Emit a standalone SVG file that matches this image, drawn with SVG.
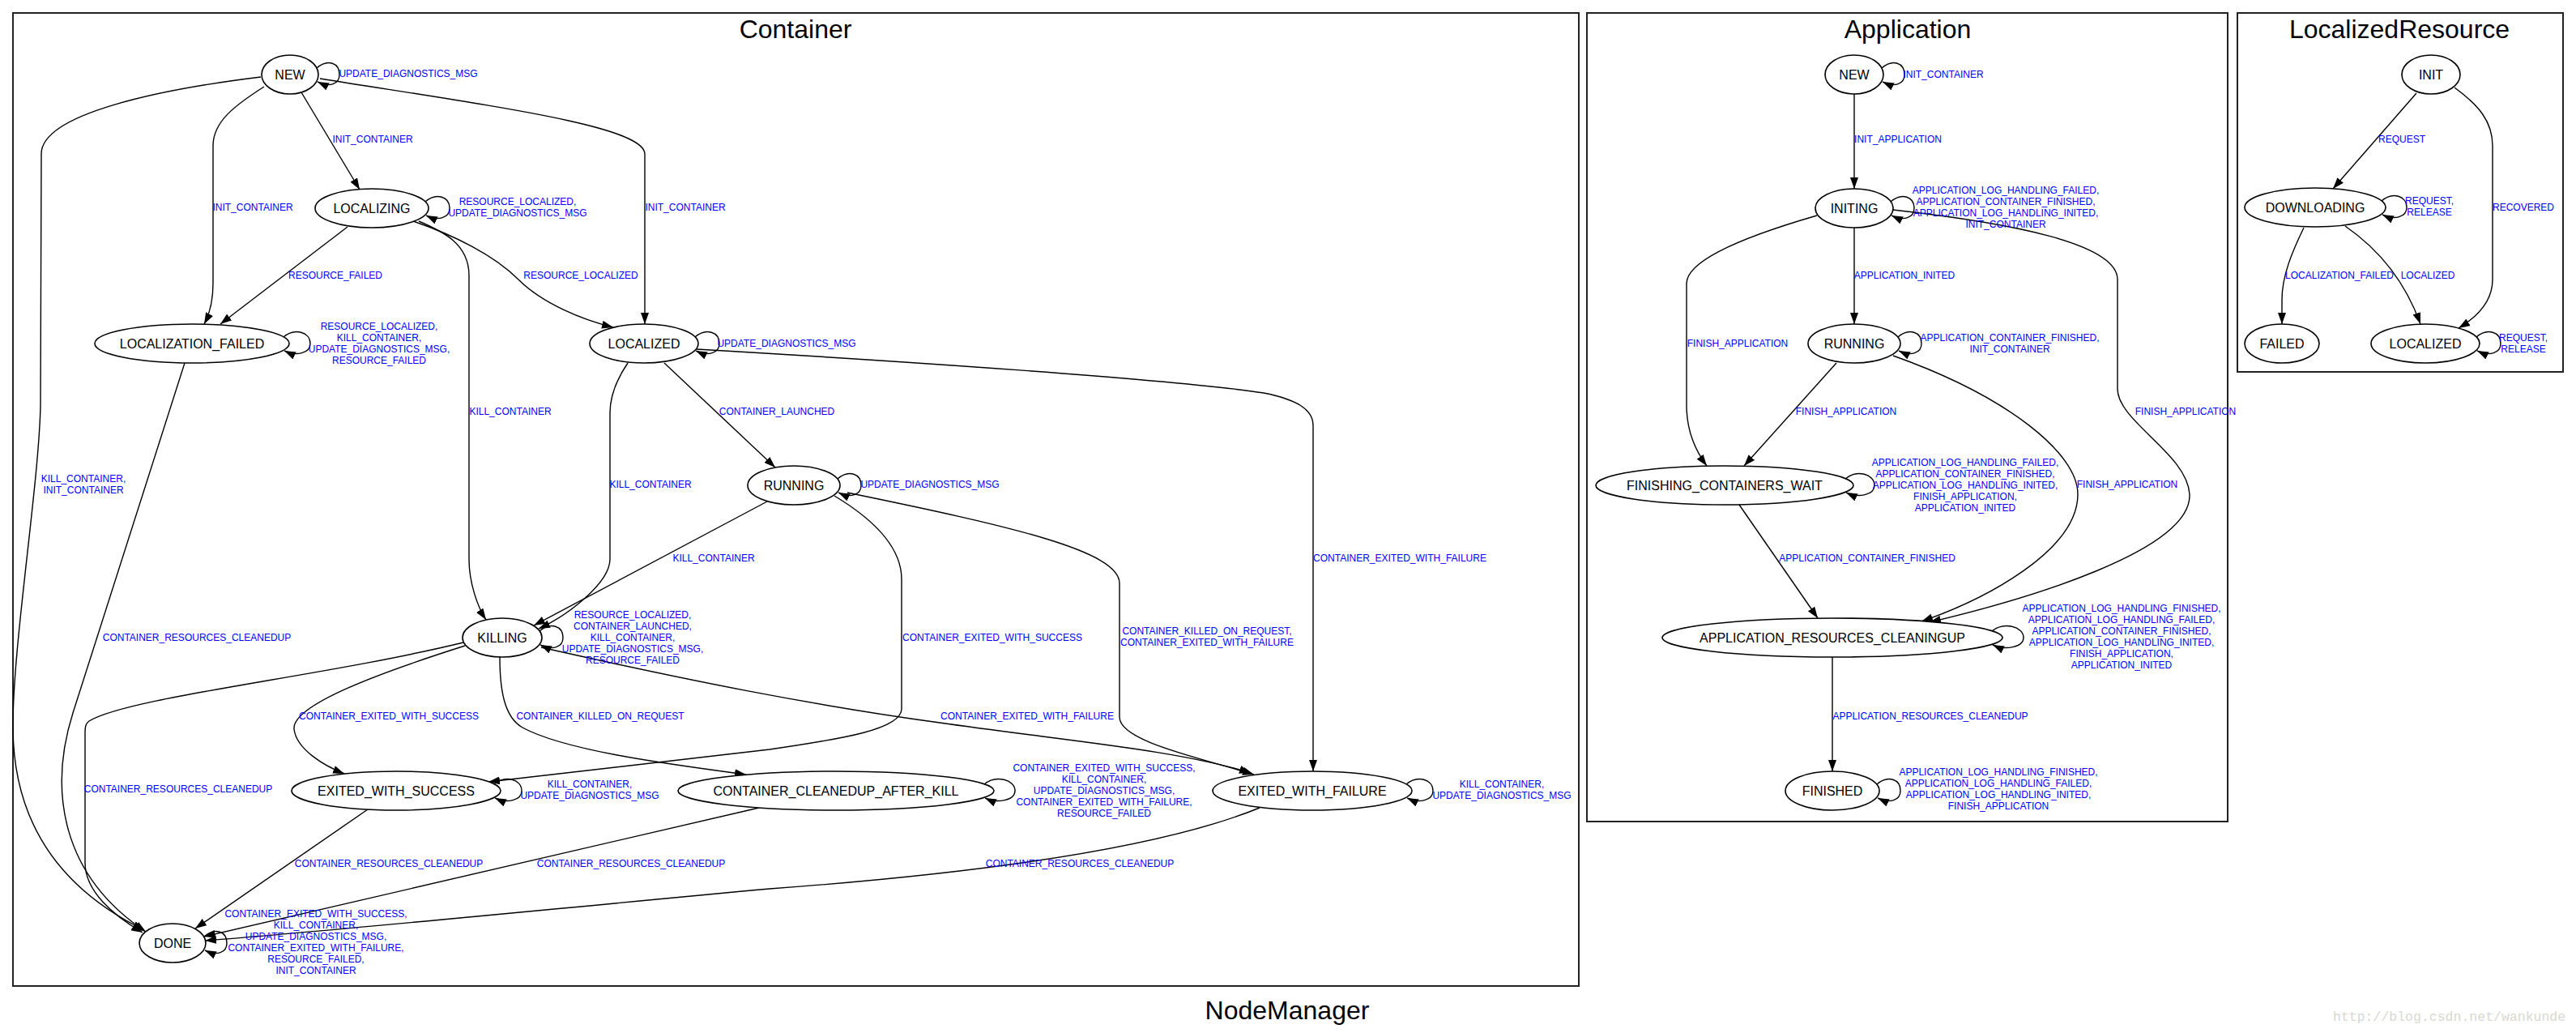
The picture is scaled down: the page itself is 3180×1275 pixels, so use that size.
<svg xmlns="http://www.w3.org/2000/svg" width="3180" height="1275" viewBox="0 0 3180 1275">
<style>
.cl{fill:none;stroke:#222;stroke-width:2}
.n ellipse{fill:#fff;stroke:#000;stroke-width:1.6}
.n text{font-family:"Liberation Sans",Arial,sans-serif;font-size:16px;text-anchor:middle;fill:#000}
.t{font-family:"Liberation Sans",Arial,sans-serif;font-size:32px;text-anchor:middle;fill:#000}
.e path{fill:none;stroke:#000;stroke-width:1.4;marker-end:url(#a)}
.l text{font-family:"Liberation Sans",Arial,sans-serif;font-size:12px;text-anchor:middle;fill:#00f}
.wm{font-family:"Liberation Mono",monospace;font-size:16.5px;fill:#d8d8cf}
</style>
<defs>
<marker id="a" markerWidth="14" markerHeight="10" refX="14" refY="5" orient="auto" markerUnits="userSpaceOnUse"><path d="M0,0 L14,5 L0,10 z" fill="#000"/></marker>
</defs>
<rect width="3180" height="1275" fill="#fff"/>

<g id="clusters">
<rect class="cl" x="16" y="16" width="1933" height="1201"/>
<text class="t" x="982" y="47">Container</text>
<rect class="cl" x="1959" y="16" width="791" height="998"/>
<text class="t" x="2355" y="47">Application</text>
<rect class="cl" x="2762" y="16" width="402" height="443"/>
<text class="t" x="2962" y="47">LocalizedResource</text>
<text class="t" x="1589" y="1258">NodeManager</text>
</g>

<g id="connectors" class="e">
<!-- Container -->
<path d="M391,84 C405,72 419,78 419,92 C419,104 407,108 392,101"/>
<path d="M372,114 L444,234"/>
<path d="M326,107 C290,130 263,150 263,180 L263,350 C263,370 260,385 252,400"/>
<path d="M395,97 C600,130 796,155 796,190 L796,400"/>
<path d="M322,95 C200,110 51,140 51,190 L50,500 C48,600 15,800 16,900 C17,1000 60,1090 178,1148"/>
<path d="M525,249 C539,237 555,243 555,257 C555,269 541,273 526,266"/>
<path d="M429,280 L272,400"/>
<path d="M510,273 C560,290 610,315 640,345 C670,375 720,395 757,404"/>
<path d="M517,273 C545,285 579,300 579,340 L579,690 C579,720 590,750 600,765"/>
<path d="M350,416 C364,404 383,410 383,424 C383,436 366,440 351,433"/>
<path d="M228,448 L90,880 C60,975 75,1080 180,1150"/>
<path d="M858,416 C872,404 888,410 888,424 C888,436 874,440 859,433"/>
<path d="M775,448 C760,470 753,490 753,510 L753,690 C753,720 700,760 665,776"/>
<path d="M820,448 L957,577"/>
<path d="M860,431 C1100,445 1450,468 1560,485 C1600,493 1621,505 1621,525 L1621,952"/>
<path d="M1034,591 C1048,579 1063,585 1063,599 C1063,611 1050,615 1035,608"/>
<path d="M947,619 L659,772"/>
<path d="M1030,612 C1085,645 1113,680 1113,715 L1113,875 C1113,900 1040,912 950,925 L603,965"/>
<path d="M1046,608 C1250,650 1382,680 1382,720 L1382,885 C1382,915 1480,935 1548,956"/>
<path d="M666,779 C680,767 695,773 695,787 C695,799 682,803 667,796"/>
<path d="M668,799 C850,840 1000,870 1160,892 C1320,915 1450,925 1544,954"/>
<path d="M574,797 C470,830 360,870 363,900 C366,925 400,945 425,955"/>
<path d="M617,811 C617,850 622,885 645,898 C700,928 840,945 921,956"/>
<path d="M572,793 C400,835 160,860 110,890 C106,893 105,896 105,905 L105,1065 C105,1100 140,1130 176,1151"/>
<path d="M610,968 C624,956 644,962 644,976 C644,988 626,992 611,985"/>
<path d="M454,999 L241,1146"/>
<path d="M1215,968 C1229,956 1253,962 1253,976 C1253,988 1231,992 1216,985"/>
<path d="M937,997 L252,1156"/>
<path d="M1736,968 C1750,956 1769,962 1769,976 C1769,988 1752,992 1737,985"/>
<path d="M1555,997 C1450,1040 1250,1075 950,1097 C700,1120 400,1150 253,1161"/>
<path d="M252,1156 C266,1144 280,1150 280,1164 C280,1176 268,1180 253,1173"/>
<!-- Application -->
<path d="M2323,84 C2337,72 2351,78 2351,92 C2351,104 2339,108 2324,101"/>
<path d="M2289,116 L2289,233"/>
<path d="M2334,249 C2348,237 2363,243 2363,257 C2363,269 2350,273 2335,266"/>
<path d="M2289,281 L2289,400"/>
<path d="M2343,416 C2357,404 2372,410 2372,424 C2372,436 2359,440 2344,433"/>
<path d="M2243,266 C2160,290 2082,320 2082,350 L2082,500 C2082,530 2092,555 2107,575"/>
<path d="M2267,448 L2153,575"/>
<path d="M2337,439 C2480,490 2565,560 2565,610 C2565,680 2450,740 2372,767"/>
<path d="M2337,259 C2480,275 2614,300 2614,345 L2614,480 C2614,520 2700,560 2703,610 C2706,680 2500,740 2382,768"/>
<path d="M2278,591 C2292,579 2314,585 2314,599 C2314,611 2294,615 2279,608"/>
<path d="M2147,623 L2244,763"/>
<path d="M2459,779 C2473,767 2498,773 2498,787 C2498,799 2475,803 2460,796"/>
<path d="M2262,811 L2262,952"/>
<path d="M2317,968 C2331,956 2346,962 2346,976 C2346,988 2333,992 2318,985"/>
<!-- LocalizedResource -->
<path d="M2983,115 L2880,233"/>
<path d="M3030,108 C3060,130 3077,150 3077,180 L3077,345 C3077,370 3060,390 3035,405"/>
<path d="M2940,248 C2954,236 2971,242 2971,256 C2971,268 2956,272 2941,265"/>
<path d="M2844,281 C2830,310 2817,340 2817,370 L2817,400"/>
<path d="M2895,279 C2940,310 2970,350 2988,400"/>
<path d="M3057,416 C3071,404 3087,410 3087,424 C3087,436 3073,440 3058,433"/>
</g>

<g id="edge-labels" class="l">
<text x="504" y="95">UPDATE_DIAGNOSTICS_MSG</text>
<text x="460" y="176">INIT_CONTAINER</text>
<text x="312" y="260">INIT_CONTAINER</text>
<text x="846" y="260">INIT_CONTAINER</text>
<text x="639" y="253">RESOURCE_LOCALIZED,</text>
<text x="639" y="267">UPDATE_DIAGNOSTICS_MSG</text>
<text x="414" y="344">RESOURCE_FAILED</text>
<text x="717" y="344">RESOURCE_LOCALIZED</text>
<text x="468" y="407">RESOURCE_LOCALIZED,</text>
<text x="468" y="421">KILL_CONTAINER,</text>
<text x="468" y="435">UPDATE_DIAGNOSTICS_MSG,</text>
<text x="468" y="449">RESOURCE_FAILED</text>
<text x="971" y="428">UPDATE_DIAGNOSTICS_MSG</text>
<text x="630" y="512">KILL_CONTAINER</text>
<text x="959" y="512">CONTAINER_LAUNCHED</text>
<text x="103" y="595">KILL_CONTAINER,</text>
<text x="103" y="609">INIT_CONTAINER</text>
<text x="803" y="602">KILL_CONTAINER</text>
<text x="1148" y="602">UPDATE_DIAGNOSTICS_MSG</text>
<text x="1728" y="693">CONTAINER_EXITED_WITH_FAILURE</text>
<text x="881" y="693">KILL_CONTAINER</text>
<text x="243" y="791">CONTAINER_RESOURCES_CLEANEDUP</text>
<text x="1225" y="791">CONTAINER_EXITED_WITH_SUCCESS</text>
<text x="1490" y="783">CONTAINER_KILLED_ON_REQUEST,</text>
<text x="1490" y="797">CONTAINER_EXITED_WITH_FAILURE</text>
<text x="781" y="763">RESOURCE_LOCALIZED,</text>
<text x="781" y="777">CONTAINER_LAUNCHED,</text>
<text x="781" y="791">KILL_CONTAINER,</text>
<text x="781" y="805">UPDATE_DIAGNOSTICS_MSG,</text>
<text x="781" y="819">RESOURCE_FAILED</text>
<text x="480" y="888">CONTAINER_EXITED_WITH_SUCCESS</text>
<text x="741" y="888">CONTAINER_KILLED_ON_REQUEST</text>
<text x="1268" y="888">CONTAINER_EXITED_WITH_FAILURE</text>
<text x="220" y="978">CONTAINER_RESOURCES_CLEANEDUP</text>
<text x="728" y="972">KILL_CONTAINER,</text>
<text x="728" y="986">UPDATE_DIAGNOSTICS_MSG</text>
<text x="1363" y="952">CONTAINER_EXITED_WITH_SUCCESS,</text>
<text x="1363" y="966">KILL_CONTAINER,</text>
<text x="1363" y="980">UPDATE_DIAGNOSTICS_MSG,</text>
<text x="1363" y="994">CONTAINER_EXITED_WITH_FAILURE,</text>
<text x="1363" y="1008">RESOURCE_FAILED</text>
<text x="1854" y="972">KILL_CONTAINER,</text>
<text x="1854" y="986">UPDATE_DIAGNOSTICS_MSG</text>
<text x="480" y="1070">CONTAINER_RESOURCES_CLEANEDUP</text>
<text x="779" y="1070">CONTAINER_RESOURCES_CLEANEDUP</text>
<text x="1333" y="1070">CONTAINER_RESOURCES_CLEANEDUP</text>
<text x="390" y="1132">CONTAINER_EXITED_WITH_SUCCESS,</text>
<text x="390" y="1146">KILL_CONTAINER,</text>
<text x="390" y="1160">UPDATE_DIAGNOSTICS_MSG,</text>
<text x="390" y="1174">CONTAINER_EXITED_WITH_FAILURE,</text>
<text x="390" y="1188">RESOURCE_FAILED,</text>
<text x="390" y="1202">INIT_CONTAINER</text>
<!-- Application -->
<text x="2399" y="96">INIT_CONTAINER</text>
<text x="2343" y="176">INIT_APPLICATION</text>
<text x="2476" y="239">APPLICATION_LOG_HANDLING_FAILED,</text>
<text x="2476" y="253">APPLICATION_CONTAINER_FINISHED,</text>
<text x="2476" y="267">APPLICATION_LOG_HANDLING_INITED,</text>
<text x="2476" y="281">INIT_CONTAINER</text>
<text x="2351" y="344">APPLICATION_INITED</text>
<text x="2145" y="428">FINISH_APPLICATION</text>
<text x="2481" y="421">APPLICATION_CONTAINER_FINISHED,</text>
<text x="2481" y="435">INIT_CONTAINER</text>
<text x="2279" y="512">FINISH_APPLICATION</text>
<text x="2698" y="512">FINISH_APPLICATION</text>
<text x="2426" y="575">APPLICATION_LOG_HANDLING_FAILED,</text>
<text x="2426" y="589">APPLICATION_CONTAINER_FINISHED,</text>
<text x="2426" y="603">APPLICATION_LOG_HANDLING_INITED,</text>
<text x="2426" y="617">FINISH_APPLICATION,</text>
<text x="2426" y="631">APPLICATION_INITED</text>
<text x="2626" y="602">FINISH_APPLICATION</text>
<text x="2305" y="693">APPLICATION_CONTAINER_FINISHED</text>
<text x="2619" y="755">APPLICATION_LOG_HANDLING_FINISHED,</text>
<text x="2619" y="769">APPLICATION_LOG_HANDLING_FAILED,</text>
<text x="2619" y="783">APPLICATION_CONTAINER_FINISHED,</text>
<text x="2619" y="797">APPLICATION_LOG_HANDLING_INITED,</text>
<text x="2619" y="811">FINISH_APPLICATION,</text>
<text x="2619" y="825">APPLICATION_INITED</text>
<text x="2383" y="888">APPLICATION_RESOURCES_CLEANEDUP</text>
<text x="2467" y="957">APPLICATION_LOG_HANDLING_FINISHED,</text>
<text x="2467" y="971">APPLICATION_LOG_HANDLING_FAILED,</text>
<text x="2467" y="985">APPLICATION_LOG_HANDLING_INITED,</text>
<text x="2467" y="999">FINISH_APPLICATION</text>
<!-- LocalizedResource -->
<text x="2965" y="176">REQUEST</text>
<text x="3115" y="260">RECOVERED</text>
<text x="2999" y="252">REQUEST,</text>
<text x="2999" y="266">RELEASE</text>
<text x="2888" y="344">LOCALIZATION_FAILED</text>
<text x="2997" y="344">LOCALIZED</text>
<text x="3115" y="421">REQUEST,</text>
<text x="3115" y="435">RELEASE</text>
</g>

<g id="c-NEW" class="n"><ellipse cx="358" cy="92" rx="35" ry="24"/><text x="358" y="98">NEW</text></g>
<g id="c-LOCALIZING" class="n"><ellipse cx="459" cy="257" rx="70" ry="24"/><text x="459" y="263">LOCALIZING</text></g>
<g id="c-LOCALIZATION_FAILED" class="n"><ellipse cx="237" cy="424" rx="120" ry="24"/><text x="237" y="430">LOCALIZATION_FAILED</text></g>
<g id="c-LOCALIZED" class="n"><ellipse cx="795" cy="424" rx="67" ry="24"/><text x="795" y="430">LOCALIZED</text></g>
<g id="c-RUNNING" class="n"><ellipse cx="980" cy="599" rx="57" ry="24"/><text x="980" y="605">RUNNING</text></g>
<g id="c-KILLING" class="n"><ellipse cx="620" cy="787" rx="49" ry="24"/><text x="620" y="793">KILLING</text></g>
<g id="c-EXITED_WITH_SUCCESS" class="n"><ellipse cx="489" cy="976" rx="129" ry="24"/><text x="489" y="982">EXITED_WITH_SUCCESS</text></g>
<g id="c-CONTAINER_CLEANEDUP_AFTER_KILL" class="n"><ellipse cx="1032" cy="976" rx="195" ry="24"/><text x="1032" y="982">CONTAINER_CLEANEDUP_AFTER_KILL</text></g>
<g id="c-EXITED_WITH_FAILURE" class="n"><ellipse cx="1620" cy="976" rx="123" ry="24"/><text x="1620" y="982">EXITED_WITH_FAILURE</text></g>
<g id="c-DONE" class="n"><ellipse cx="213" cy="1164" rx="41" ry="24"/><text x="213" y="1170">DONE</text></g>

<g id="a-NEW" class="n"><ellipse cx="2289" cy="92" rx="36" ry="24"/><text x="2289" y="98">NEW</text></g>
<g id="a-INITING" class="n"><ellipse cx="2289" cy="257" rx="48" ry="24"/><text x="2289" y="263">INITING</text></g>
<g id="a-RUNNING" class="n"><ellipse cx="2289" cy="424" rx="57" ry="24"/><text x="2289" y="430">RUNNING</text></g>
<g id="a-FINISHING_CONTAINERS_WAIT" class="n"><ellipse cx="2129" cy="599" rx="159" ry="24"/><text x="2129" y="605">FINISHING_CONTAINERS_WAIT</text></g>
<g id="a-APPLICATION_RESOURCES_CLEANINGUP" class="n"><ellipse cx="2262" cy="787" rx="210" ry="24"/><text x="2262" y="793">APPLICATION_RESOURCES_CLEANINGUP</text></g>
<g id="a-FINISHED" class="n"><ellipse cx="2262" cy="976" rx="58" ry="24"/><text x="2262" y="982">FINISHED</text></g>

<g id="r-INIT" class="n"><ellipse cx="3001" cy="92" rx="36" ry="24"/><text x="3001" y="98">INIT</text></g>
<g id="r-DOWNLOADING" class="n"><ellipse cx="2858" cy="256" rx="87" ry="24"/><text x="2858" y="262">DOWNLOADING</text></g>
<g id="r-FAILED" class="n"><ellipse cx="2817" cy="424" rx="46" ry="24"/><text x="2817" y="430">FAILED</text></g>
<g id="r-LOCALIZED" class="n"><ellipse cx="2994" cy="424" rx="67" ry="24"/><text x="2994" y="430">LOCALIZED</text></g>

<text class="wm" x="2880" y="1260">http://blog.csdn.net/wankunde</text>
</svg>
